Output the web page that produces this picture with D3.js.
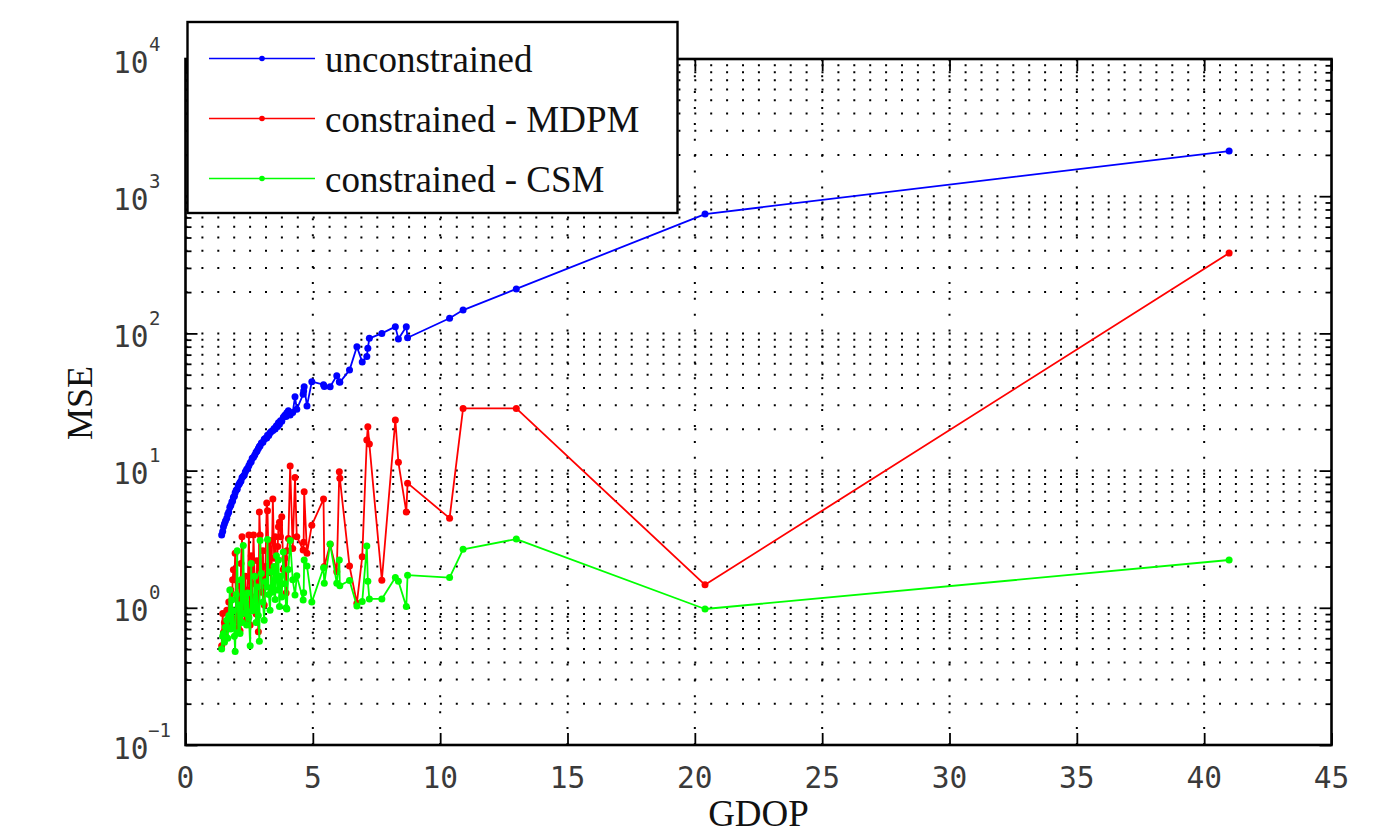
<!DOCTYPE html>
<html><head><meta charset="utf-8">
<script src="https://cdn.jsdelivr.net/npm/d3@7"></script>
<style>body{margin:0;background:#fff} svg{display:block}</style>
</head><body><svg id="c" width="1392" height="837"></svg>
<script>
// ---------- data ----------
const gdop = [
 1.42,1.46,1.49,1.53,1.57,1.62,1.66,1.70,1.74,1.78,1.82,1.85,1.88,1.92,1.95,1.99,2.03,2.07,2.11,2.14,
 2.18,2.22,2.27,2.31,2.35,2.40,2.44,2.49,2.54,2.58,2.62,2.67,2.72,2.77,2.81,2.86,2.90,2.93,2.98,3.04,
 3.09,3.14,3.19,3.22,3.27,3.32,3.37,3.43,3.48,3.52,3.57,3.62,3.65,3.69,3.73,3.78,3.84,3.90,3.95,3.98,
 4.04,4.11,4.21,4.30,4.37,4.62,4.64,4.66,4.77,4.96,5.42,5.45,5.68,5.94,6.04,6.06,6.44,6.73,6.94,7.12,
 7.16,7.22,7.71,8.24,8.36,8.67,8.72,10.37,10.90,12.99,20.40,40.98];
const mseUnconstrained = [
 3.4,3.6,3.9,4.1,4.3,4.5,4.8,5.0,5.4,5.6,5.9,6.0,6.4,6.5,6.9,7.2,7.3,7.8,8.0,8.2,
 8.4,8.9,9.1,9.3,9.8,10.2,10.4,10.9,11.4,11.6,12.3,12.5,13.0,13.6,13.9,14.5,15.0,15.2,15.9,16.1,
 16.9,17.2,17.3,18.1,18.0,18.9,19.3,19.6,20.3,20.1,21.2,21.0,22.3,21.8,23.1,22.9,24.5,25.3,24.8,26.4,
 27.3,25.4,26.5,34.6,28.0,36.0,38.0,40.9,29.6,44.5,42.3,41.0,40.8,49.2,44.5,44.0,54.0,80.0,62.0,68.0,
 78.0,92.0,100,112,91,112,93,129,148,211,741,2133];
const mseMDPM = [
 0.53,0.91,0.66,0.78,0.62,0.96,0.70,1.10,0.75,1.35,0.85,1.60,1.89,1.60,2.50,0.80,1.20,0.72,1.45,0.68,
 2.10,3.30,1.10,0.90,1.70,0.82,1.35,3.40,0.75,2.40,1.20,3.40,1.50,0.90,2.20,0.67,5.00,3.40,1.30,2.60,
 1.05,2.00,5.80,5.10,1.80,3.10,1.40,6.20,2.30,3.30,1.60,2.80,3.90,4.20,3.30,4.60,1.90,2.30,1.28,2.60,
 3.20,10.8,2.70,8.90,3.30,2.64,3.00,7.00,2.50,4.00,6.20,2.00,2.90,1.83,9.80,8.80,2.02,1.08,2.36,16.7,
 20.9,15.6,1.59,23.4,11.5,5.00,8.10,4.50,28.4,28.4,1.47,385];
const mseCSM = [
 0.50,0.62,0.65,0.56,0.72,0.81,0.60,0.88,1.35,0.70,1.14,0.74,0.95,0.62,0.48,1.25,2.60,0.66,1.05,0.65,
 1.60,0.78,2.85,0.91,1.20,0.75,1.28,0.85,0.53,2.10,0.95,1.02,1.70,0.78,1.42,0.88,0.57,3.10,1.78,1.10,
 0.81,1.55,1.42,3.15,1.25,0.96,1.83,1.30,2.00,1.15,2.40,1.35,2.23,1.02,1.70,1.20,2.55,1.50,1.00,0.98,
 1.90,3.10,1.60,1.24,1.71,1.14,1.29,2.23,2.02,1.10,1.96,1.51,2.92,1.51,2.23,1.45,1.58,1.03,1.11,2.82,
 1.56,1.16,1.16,1.66,1.56,1.02,1.73,1.66,2.67,3.17,0.98,2.23];
const seriesNames = ["unconstrained", "constrained - MDPM", "constrained - CSM"];
const seriesColors = ["#0000ff", "#ff0000", "#00ff00"];
const xTickValues = [0,5,10,15,20,25,30,35,40,45];
const yMajorExponents = [-1,0,1,2,3,4];
const xLabel = "GDOP";
const yLabel = "MSE";

// ---------- layout ----------
const svg = d3.select("#c");
const L = 185.5, R = 1331.5, T = 59, B = 745;
const x = d3.scaleLinear().domain([0,45]).range([L,R]);
const y = d3.scaleLog().domain([0.1,1e4]).range([B,T]);

const yMajor = yMajorExponents.map(e => Math.pow(10,e));
const yMinor = [];
yMajorExponents.slice(0,-1).forEach(e => { for (let k=2;k<=9;k++) yMinor.push(k*Math.pow(10,e)); });
const yAll = yMajor.concat(yMinor);

// grid
const grid = svg.append("g").attr("stroke","#000").attr("stroke-width",2)
  .attr("stroke-dasharray","2 13.9");
yAll.filter(v => v>0.1 && v<1e4).forEach(v => {
  grid.append("line").attr("x1",L).attr("x2",R).attr("y1",y(v)).attr("y2",y(v));
});
xTickValues.filter(v => v>0 && v<45).forEach(v => {
  grid.append("line").attr("x1",x(v)).attr("x2",x(v)).attr("y1",B).attr("y2",T);
});

// axes (ticks inward on all four sides)
function styleAxis(g){ g.select(".domain").remove(); g.selectAll("line").attr("stroke","#000").attr("stroke-width",1.8); g.selectAll("text").remove(); }
svg.append("g").attr("transform",`translate(0,${B})`).call(d3.axisBottom(x).tickValues(xTickValues).tickSize(-12).tickFormat("")).call(styleAxis);
svg.append("g").attr("transform",`translate(0,${T})`).call(d3.axisTop(x).tickValues(xTickValues).tickSize(-12).tickFormat("")).call(styleAxis);
svg.append("g").attr("transform",`translate(${L},0)`).call(d3.axisLeft(y).tickValues(yMajor).tickSize(-12).tickFormat("")).call(styleAxis);
svg.append("g").attr("transform",`translate(${L},0)`).call(d3.axisLeft(y).tickValues(yMinor).tickSize(-6).tickFormat("")).call(styleAxis);
svg.append("g").attr("transform",`translate(${R},0)`).call(d3.axisRight(y).tickValues(yMajor).tickSize(-12).tickFormat("")).call(styleAxis);
svg.append("g").attr("transform",`translate(${R},0)`).call(d3.axisRight(y).tickValues(yMinor).tickSize(-6).tickFormat("")).call(styleAxis);

svg.append("rect").attr("x",L).attr("y",T).attr("width",R-L).attr("height",B-T)
  .attr("fill","none").attr("stroke","#000").attr("stroke-width",2.6);

// tick labels
const mono = "'DejaVu Sans Mono', monospace";
svg.append("g").selectAll("text").data(xTickValues).join("text")
  .attr("x",d=>x(d)).attr("y",788).attr("text-anchor","middle")
  .attr("font-family",mono).attr("font-size",29.5).attr("fill","#3a3a3a")
  .text(d=>d);
const yl = svg.append("g").attr("font-family",mono).attr("fill","#3a3a3a");
yMajorExponents.forEach(e => {
  const yy = y(Math.pow(10,e));
  yl.append("text").attr("x",148.5).attr("y",yy+13.5).attr("text-anchor","end").attr("font-size",29.5).text("10");
  yl.append("text").attr("x",e<0?148:149).attr("y",yy-8.5).attr("text-anchor","start").attr("font-size",19)
    .text(e<0 ? "\u2212"+Math.abs(e) : String(e));
});

// axis titles
const serif = "'Liberation Serif', 'DejaVu Serif', serif";
svg.append("text").attr("x",(L+R)/2).attr("y",826).attr("text-anchor","middle")
  .attr("font-family",serif).attr("font-size",37).attr("fill","#111").text(xLabel);
svg.append("text").attr("transform","translate(92,403) rotate(-90)").attr("text-anchor","middle")
  .attr("font-family",serif).attr("font-size",36).attr("fill","#111").text(yLabel);

// series
const seriesValues = [mseUnconstrained, mseMDPM, mseCSM];
const plot = svg.append("g");
seriesValues.forEach((vals,i) => {
  const pts = gdop.map((g,j) => [g, vals[j]]);
  plot.append("path").datum(pts).attr("fill","none").attr("stroke",seriesColors[i]).attr("stroke-width",1.8)
    .attr("stroke-linejoin","round")
    .attr("d", d3.line().x(d=>x(d[0])).y(d=>y(d[1])));
  plot.append("g").selectAll("circle").data(pts).join("circle")
    .attr("cx",d=>x(d[0])).attr("cy",d=>y(d[1])).attr("r",3.5).attr("fill",seriesColors[i]);
});

// legend
const lg = svg.append("g");
lg.append("rect").attr("x",187.5).attr("y",22).attr("width",490).attr("height",191)
  .attr("fill","#fff").attr("stroke","#000").attr("stroke-width",2.4);
const rowY = [58.5, 118.5, 178.5];
seriesNames.forEach((name,i) => {
  lg.append("line").attr("x1",209).attr("x2",315).attr("y1",rowY[i]).attr("y2",rowY[i])
    .attr("stroke",seriesColors[i]).attr("stroke-width",1.6);
  lg.append("circle").attr("cx",262).attr("cy",rowY[i]).attr("r",2.8).attr("fill",seriesColors[i]);
  lg.append("text").attr("x",325).attr("y",rowY[i]+13.5).attr("font-family",serif).attr("font-size",37)
    .attr("fill","#111").text(name);
});
</script></body></html>
